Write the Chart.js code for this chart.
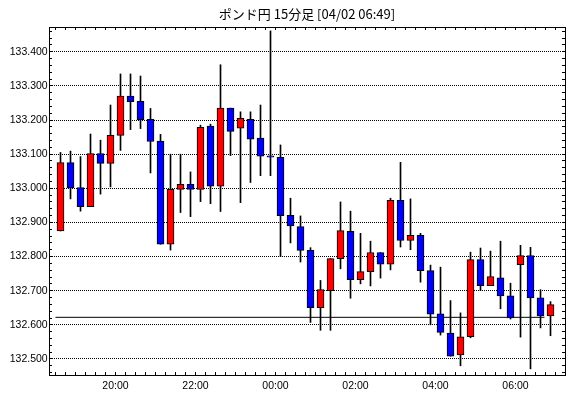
<!DOCTYPE html>
<html>
  <head>
    <meta charset="utf-8" />
    <style>
      * {
        margin: 0;
        padding: 0;
      }
      body {
        background: #ffffff;
        overflow: hidden;
      }
    </style>
  </head>
  <body>
    <canvas id="myChart" width="570" height="398"></canvas>
    <script src="https://cdn.jsdelivr.net/npm/chart.js/dist/chart.umd.min.js"></script>
    <script>
      // 15 minute candles, start time of each
      const times = [
        "18:30", "18:45", "19:00", "19:15", "19:30", "19:45", "20:00", "20:15",
        "20:30", "20:45", "21:00", "21:15", "21:30", "21:45", "22:00", "22:15",
        "22:30", "22:45", "23:00", "23:15", "23:30", "23:45", "00:00", "00:15",
        "00:30", "00:45", "01:00", "01:15", "01:30", "01:45", "02:00", "02:15",
        "02:30", "02:45", "03:00", "03:15", "03:30", "03:45", "04:00", "04:15",
        "04:30", "04:45", "05:00", "05:15", "05:30", "05:45", "06:00", "06:15",
        "06:30", "06:45",
      ];
      const open = [
        132.875, 133.075, 133.002, 132.946, 133.102, 133.073, 133.155, 133.270,
        133.255, 133.202, 133.138, 132.836, 132.997, 133.012, 132.997, 133.182,
        133.006, 133.235, 133.176, 133.202, 133.147, 133.095, 133.091, 132.921,
        132.888, 132.818, 132.650, 132.700, 132.794, 132.874, 132.732, 132.756,
        132.812, 132.778, 132.965, 132.847, 132.862, 132.759, 132.632, 132.576,
        132.512, 132.565, 132.791, 132.715, 132.738, 132.685, 132.776, 132.803,
        132.679, 132.626,
      ];
      const high = [
        133.105, 133.109, 133.093, 133.159, 133.141, 133.244, 133.335, 133.335,
        133.329, 133.234, 133.158, 133.100, 133.100, 133.048, 133.185, 133.188,
        133.362, 133.235, 133.224, 133.224, 133.244, 133.461, 133.127, 132.971,
        132.919, 132.826, 132.730, 132.794, 132.960, 132.933, 132.868, 132.845,
        132.812, 132.971, 133.076, 132.969, 132.868, 132.775, 132.769, 132.671,
        132.635, 132.813, 132.825, 132.816, 132.845, 132.722, 132.833, 132.827,
        132.703, 132.668,
      ];
      const low = [
        132.875, 132.969, 132.933, 132.946, 132.983, 133.004, 133.111, 133.172,
        133.175, 133.045, 132.836, 132.819, 132.929, 132.917, 132.961, 132.955,
        132.932, 133.096, 132.958, 133.017, 133.037, 133.037, 132.800, 132.840,
        132.784, 132.607, 132.584, 132.584, 132.764, 132.678, 132.720, 132.714,
        132.737, 132.761, 132.828, 132.820, 132.725, 132.600, 132.570, 132.508,
        132.480, 132.562, 132.700, 132.715, 132.647, 132.617, 132.564, 132.471,
        132.591, 132.568,
      ];
      const close = [
        133.075, 133.001, 132.946, 133.102, 133.073, 133.155, 133.270, 133.254,
        133.201, 133.137, 132.836, 132.997, 133.012, 132.997, 133.179, 133.006,
        133.235, 133.167, 133.205, 133.144, 133.094, 133.091, 132.920, 132.890,
        132.818, 132.650, 132.703, 132.794, 132.876, 132.732, 132.756, 132.812,
        132.778, 132.965, 132.847, 132.862, 132.759, 132.631, 132.578, 132.508,
        132.565, 132.791, 132.715, 132.741, 132.685, 132.620, 132.803, 132.679,
        132.626, 132.659,
      ];
      const refLevel = 132.622;

      const yTickLabels = [
        "132.500", "132.600", "132.700", "132.800", "132.900",
        "133.000", "133.100", "133.200", "133.300", "133.400",
      ];
      const xTickLabels = ["20:00", "22:00", "00:00", "02:00", "04:00", "06:00"];

      const yMin = 132.453;
      const yMax = 133.4726;
      const xMin = -1.15;
      const xMax = 50.45;

      // small ticks every 0.02 on the price axis
      const yTickValues = [];
      for (let k = 0; k <= 50; k++) {
        yTickValues.push(Math.round((132.46 + k * 0.02) * 1000) / 1000);
      }
      // small ticks on each candle boundary
      const xTickValues = times.map((t, i) => i - 0.5).concat([times.length - 0.5]);

      const isMajorY = (v) => yTickLabels.includes(v.toFixed(3));

      Chart.defaults.font.family = "'Liberation Sans', Arial, sans-serif";
      Chart.defaults.color = "#000";

      const bodies = {
        label: "body",
        data: times.map((t, i) => ({ x: i, y: [open[i], close[i]] })),
        backgroundColor: times.map((t, i) =>
          close[i] >= open[i] ? "#ff0000" : "#0000ff"
        ),
        borderColor: "#000",
        borderWidth: 1,
        borderSkipped: false,
        barThickness: 7,
        grouped: false,
        order: 0,
      };
      const wicks = {
        label: "wick",
        data: times.map((t, i) => ({ x: i, y: [low[i], high[i]] })),
        backgroundColor: "#000",
        borderWidth: 0,
        barThickness: 1,
        grouped: false,
        order: 1,
      };
      const refLine = {
        type: "line",
        label: "ref",
        data: [
          { x: -0.5, y: refLevel },
          { x: 48.4, y: refLevel },
        ],
        borderColor: "#000",
        borderWidth: 1,
        pointRadius: 0,
        order: 2,
      };

      const tickFont = { size: 10.5 };

      const config = {
        type: "bar",
        data: { datasets: [bodies, wicks, refLine] },
        options: {
          responsive: false,
          animation: false,
          layout: { padding: { left: 9, right: 5, top: 0, bottom: 0 } },
          plugins: {
            legend: { display: false },
            tooltip: { enabled: false },
            title: {
              display: true,
              fullSize: false,
              text: "ポンド円 15分足 [04/02 06:49]",
              color: "#000",
              font: { family: "'Noto Sans CJK JP', sans-serif", size: 13, weight: "normal", lineHeight: 1.2 },
              padding: { top: 6.7, bottom: 4.7 },
            },
          },
          scales: {
            x: {
              type: "linear",
              position: "bottom",
              min: xMin,
              max: xMax,
              offset: false,
              bounds: "data",
              afterBuildTicks: (s) => {
                s.ticks = xTickValues.map((v) => ({ value: v }));
              },
              afterFit: (s) => {
                s.height = 23;
              },
              ticks: {
                autoSkip: false,
                maxRotation: 0,
                padding: 7.4,
                font: tickFont,
                callback: (v) => {
                  const t = times[Math.round(v + 0.5)];
                  return xTickLabels.includes(t) ? t : "";
                },
              },
              grid: { offset: false, drawOnChartArea: false, tickLength: -3, tickColor: "#000" },
              border: { color: "#000", width: 1 },
            },
            xTop: {
              type: "linear",
              position: "top",
              min: xMin,
              max: xMax,
              offset: false,
              bounds: "data",
              afterBuildTicks: (s) => {
                s.ticks = xTickValues.map((v) => ({ value: v }));
              },
              afterFit: (s) => {
                s.height = 0;
              },
              ticks: { display: false },
              grid: { offset: false, drawOnChartArea: false, tickLength: -3, tickColor: "#000" },
              border: { color: "#000", width: 1 },
            },
            y: {
              type: "linear",
              position: "left",
              min: yMin,
              max: yMax,
              bounds: "data",
              afterBuildTicks: (s) => {
                s.ticks = yTickValues.map((v) => ({ value: v }));
              },
              afterFit: (s) => {
                s.width = 40;
              },
              ticks: {
                autoSkip: false,
                padding: 4.3,
                font: tickFont,
                callback: (v) => (isMajorY(v) ? v.toFixed(3) : ""),
              },
              grid: {
                color: (c) => (c.tick && isMajorY(c.tick.value) ? "#000" : "rgba(0,0,0,0)"),
                lineWidth: 1,
                tickLength: -3,
                tickColor: "#000",
              },
              border: { color: "#000", width: 1, dash: [1, 1] },
            },
            y2: {
              type: "linear",
              position: "right",
              min: yMin,
              max: yMax,
              bounds: "data",
              afterBuildTicks: (s) => {
                s.ticks = yTickValues.map((v) => ({ value: v }));
              },
              afterFit: (s) => {
                s.width = 0;
              },
              ticks: { display: false },
              grid: { drawOnChartArea: false, tickLength: -3, tickColor: "#000" },
              border: { color: "#000", width: 1 },
            },
          },
        },
      };

      const myChart = new Chart(document.getElementById("myChart"), config);
    </script>
  </body>
</html>
